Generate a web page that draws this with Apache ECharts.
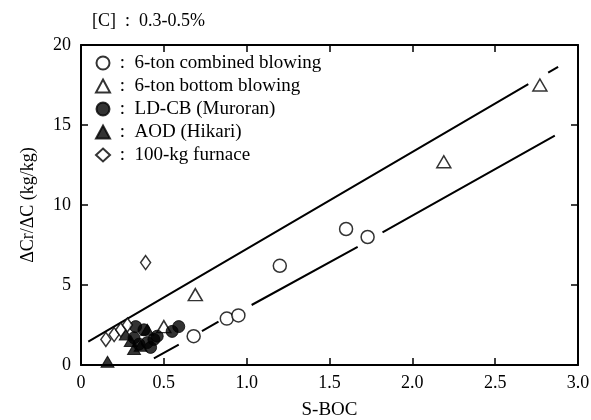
<!DOCTYPE html>
<html><head><meta charset="utf-8">
<script src="https://cdn.jsdelivr.net/npm/echarts@6/dist/echarts.min.js"></script>
<style>html,body{margin:0;padding:0;background:#fff}#c{width:591px;height:420px}</style>
</head><body><div id="c"></div>
<script>
const xTicks = [0, 0.5, 1.0, 1.5, 2.0, 2.5, 3.0];
const yTicks = [0, 5, 10, 15, 20];
const combined6t = [[0.68,1.8],[0.88,2.9],[0.95,3.1],[1.20,6.2],[1.60,8.5],[1.73,8.0]];
const bottom6t = [[0.50,2.4],[0.69,4.4],[2.19,12.7],[2.77,17.5]];
const ldcb = [[0.33,2.4],[0.38,2.2],[0.32,1.7],[0.35,1.3],[0.40,1.4],[0.44,1.6],[0.42,1.1],[0.46,1.8],[0.55,2.1],[0.59,2.4]];
const aod = [[0.16,0.2],[0.27,1.9],[0.30,1.5],[0.32,1.0],[0.36,1.2],[0.40,2.2]];
const furnace100kg = [[0.15,1.6],[0.20,1.9],[0.24,2.2],[0.28,2.5],[0.39,6.4]];
const upperLine = [[0.044,1.46],[2.70,17.55],null,[2.82,18.28],[2.88,18.64]];
const lowerLine = [[0.44,0.42],[0.59,1.27],null,[0.73,2.12],[0.83,2.71],null,[1.03,3.75],[1.67,7.39],null,[1.82,8.29],[2.86,14.33]];
const names = ['6-ton combined blowing','6-ton bottom blowing','LD-CB (Muroran)','AOD (Hikari)','100-kg furnace'];

const F = 'Liberation Serif';
const chart = echarts.init(document.getElementById('c'));
const openStyle = {color:'#fff', borderColor:'#000', borderWidth:1.5};
const fillStyle = {color:'#000', borderColor:'#000', borderWidth:1};
const axisCommon = {
  axisLine:{onZero:false, lineStyle:{color:'#000', width:2}},
  axisTick:{inside:true, length:7, lineStyle:{color:'#000', width:1.5}},
  splitLine:{show:false}
};
chart.setOption({
  animation:false,
  title:{text:'[C]  :  0.3-0.5%', left:87, top:7, textStyle:{fontFamily:F, fontSize:18, fontWeight:'normal', color:'#000'}},
  grid:{left:81, right:13, top:45, bottom:55, outerBoundsMode:'none', containLabel:false},
  legend:{
    orient:'vertical', left:90, top:48, itemGap:3, itemWidth:14, itemHeight:13,
    data:names,
    formatter: n => ' :  ' + n,
    textStyle:{fontFamily:F, fontSize:19, lineHeight:20, color:'#000'}
  },
  xAxis:[
    Object.assign({type:'value', min:0, max:3, interval:0.5, position:'bottom',
      name:'S-BOC', nameLocation:'middle', nameGap:36,
      nameTextStyle:{fontFamily:F, fontSize:19, color:'#000'},
      axisLabel:{fontFamily:F, fontSize:18, color:'#000', margin:9, formatter:v=> v===0?'0':v.toFixed(1)}}, axisCommon),
    Object.assign({type:'value', min:0, max:3, interval:0.5, position:'top', axisLabel:{show:false}}, axisCommon)
  ],
  yAxis:[
    Object.assign({type:'value', min:0, max:20, interval:5, position:'left',
      name:'\u0394Cr/\u0394C (kg/kg)', nameLocation:'middle', nameGap:44,
      nameTextStyle:{fontFamily:F, fontSize:18, color:'#000'},
      axisLabel:{fontFamily:F, fontSize:18, color:'#000', margin:10}}, axisCommon),
    Object.assign({type:'value', min:0, max:20, interval:5, position:'right', axisLabel:{show:false}}, axisCommon)
  ],
  series:[
    {type:'line', data:upperLine, symbol:'none', connectNulls:false, lineStyle:{color:'#000', width:2}, silent:true, z:1},
    {type:'line', data:lowerLine, symbol:'none', connectNulls:false, lineStyle:{color:'#000', width:2}, silent:true, z:1},
    {name:names[0], type:'scatter', data:combined6t, symbol:'circle', symbolSize:13, itemStyle:openStyle, z:3},
    {name:names[1], type:'scatter', data:bottom6t, symbol:'triangle', symbolSize:[14,12], itemStyle:openStyle, z:3},
    {name:names[2], type:'scatter', data:ldcb, symbol:'circle', symbolSize:12, itemStyle:fillStyle, z:3},
    {name:names[3], type:'scatter', data:aod, symbol:'triangle', symbolSize:[13,11], itemStyle:fillStyle, z:3},
    {name:names[4], type:'scatter', data:furnace100kg, symbol:'diamond', symbolSize:[10,14], itemStyle:openStyle, z:3}
  ]
});
</script></body></html>
